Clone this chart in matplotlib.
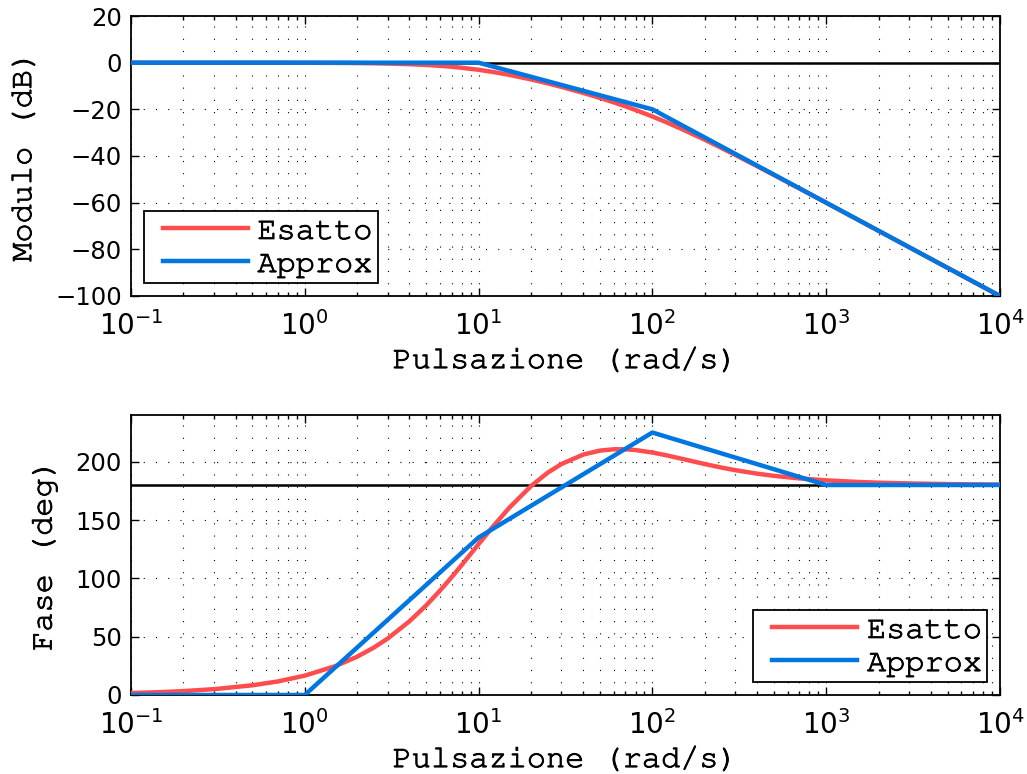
import matplotlib
matplotlib.use("Agg")
import numpy as np
import matplotlib.pyplot as plt
import matplotlib.patheffects as pe
from matplotlib import font_manager
from matplotlib.ticker import LogLocator, MultipleLocator, NullFormatter
from matplotlib.legend_handler import HandlerLine2D

# ---- data ----
freq = [0.1, 0.15, 0.2, 0.3, 0.5, 0.7, 1, 1.5, 2, 2.5, 3, 4, 5, 6, 7, 8, 10, 12, 15,
        20, 25, 30, 40, 50, 60, 70, 80, 100, 120, 150, 200, 250, 300, 400, 500, 700,
        1000, 1500, 2000, 3000, 5000, 7000, 10000]
mag_exact = [0.00, -0.001, -0.002, -0.004, -0.011, -0.021, -0.044, -0.097, -0.170,
             -0.266, -0.378, -0.652, -0.980, -1.351, -1.753, -2.176, -3.053, -3.936,
             -5.216, -7.160, -8.866, -10.374, -12.949, -15.119, -17.017, -18.722,
             -20.277, -23.053, -25.488, -28.660, -33.021, -36.569, -39.547, -44.348,
             -48.131, -53.893, -60.043, -67.063, -72.052, -79.089, -87.960, -93.805,
             -100.0]
phase_exact = [1.66, 2.49, 3.32, 4.98, 8.30, 11.61, 16.56, 24.73, 32.78, 40.68, 48.38,
               63.11, 76.83, 89.46, 100.97, 111.41, 129.29, 143.74, 160.40, 179.00,
               190.56, 198.00, 206.09, 209.51, 210.65, 210.62, 209.97, 207.87, 205.51,
               202.25, 197.98, 194.93, 192.71, 189.74, 187.87, 185.68, 183.99, 182.67,
               182.00, 181.34, 180.80, 180.57, 180.40]

freq_mag_approx = [0.1, 10, 100, 10000]
mag_approx = [0, 0, -20, -100]
freq_phase_approx = [0.1, 1, 10, 100, 1000, 10000]
phase_approx = [0, 0, 135, 225, 180, 180]

mag_ref = 0
phase_ref = 180

labels = ["Esatto", "Approx"]
xlabel = "Pulsazione (rad/s)"
ylabels = ["Modulo (dB)", "Fase (deg)"]

# ---- style ----
RED = "#FF4D4F"
BLUE = "#0077E0"

available = {f.name for f in font_manager.fontManager.ttflist}
MONO = "Liberation Mono"
for cand in ["Nimbus Mono PS", "Nimbus Mono L", "FreeMono", "Courier New",
             "Courier", "Courier Prime", "Liberation Mono"]:
    if cand in available:
        MONO = cand
        break
SANS = "DejaVu Sans"
THICK = [pe.withStroke(linewidth=0.6, foreground="black")]
MONO_SIZE = 23

plt.rcParams["mathtext.default"] = "regular"
plt.rcParams["font.family"] = [SANS]


class OffsetLineHandler(HandlerLine2D):
    def create_artists(self, legend, orig_handle, xdescent, ydescent, width,
                       height, fontsize, trans):
        arts = super().create_artists(legend, orig_handle, xdescent, ydescent,
                                      width, height, fontsize, trans)
        for a in arts:
            xd = np.asarray(a.get_xdata(), dtype=float)
            if len(xd) >= 2:
                x0, x1 = xd[0], xd[-1]
                a.set_xdata(np.linspace(x0 + 0.14 * (x1 - x0), x1, len(xd)))
        return arts


fig = plt.figure(figsize=(10.27, 7.74), dpi=100)
ax1 = fig.add_axes([0.1275, 0.6176, 0.8462, 0.3617])
ax2 = fig.add_axes([0.1275, 0.1021, 0.8462, 0.3617])


def style(ax, ylim, ystep, ylabel):
    ax.set_xscale("log")
    ax.set_xlim(0.1, 10000)
    ax.set_ylim(*ylim)
    ax.yaxis.set_major_locator(MultipleLocator(ystep))
    ax.xaxis.set_major_locator(LogLocator(base=10, numticks=20))
    ax.xaxis.set_minor_locator(LogLocator(base=10, subs=range(2, 10), numticks=20))
    ax.xaxis.set_minor_formatter(NullFormatter())
    ax.tick_params(which="both", direction="in", top=True, right=True, width=1.0)
    ax.tick_params(which="major", length=6)
    ax.tick_params(which="minor", length=3)
    ax.tick_params(axis="x", which="major", labelsize=20, pad=11)
    ax.tick_params(axis="y", which="major", labelsize=17.5, pad=6.5)
    ax.grid(True, which="major", axis="both", color="black",
            linestyle=(0, (1, 10)), linewidth=0.8)
    ax.grid(True, which="minor", axis="x", color="black",
            linestyle=(0, (1, 10)), linewidth=0.8)
    for s in ax.spines.values():
        s.set_linewidth(1.3)
    xl = ax.set_xlabel(xlabel, fontfamily=MONO, fontsize=MONO_SIZE, labelpad=5)
    yl = ax.set_ylabel(ylabel, fontfamily=MONO, fontsize=MONO_SIZE, labelpad=13)
    xl.set_path_effects(THICK)
    yl.set_path_effects(THICK)


style(ax1, (-100, 20), 20, ylabels[0])
style(ax2, (0, 240), 50, ylabels[1])

# magnitude
ax1.axhline(mag_ref, color="black", linewidth=1.8, zorder=2)
ax1.plot(freq, mag_exact, color=RED, linewidth=3.2, label=labels[0], zorder=3)
ax1.plot(freq_mag_approx, mag_approx, color=BLUE, linewidth=3.2, label=labels[1], zorder=4)

# phase
ax2.axhline(phase_ref, color="black", linewidth=1.8, zorder=2)
ax2.plot(freq, phase_exact, color=RED, linewidth=3.2, label=labels[0], zorder=3)
ax2.plot(freq_phase_approx, phase_approx, color=BLUE, linewidth=3.2, label=labels[1], zorder=4)

for ax, loc in ((ax1, "lower left"), (ax2, "lower right")):
    leg = ax.legend(loc=loc, prop={"family": MONO, "size": MONO_SIZE},
                    fancybox=False, framealpha=1, edgecolor="black",
                    handlelength=3.1, handletextpad=0.3, labelspacing=0.15,
                    borderpad=0.16, borderaxespad=0.4,
                    handler_map={plt.Line2D: OffsetLineHandler()})
    leg.get_frame().set_linewidth(1.3)
    for t in leg.get_texts():
        t.set_path_effects(THICK)

fig.savefig("out.png", dpi=100)
